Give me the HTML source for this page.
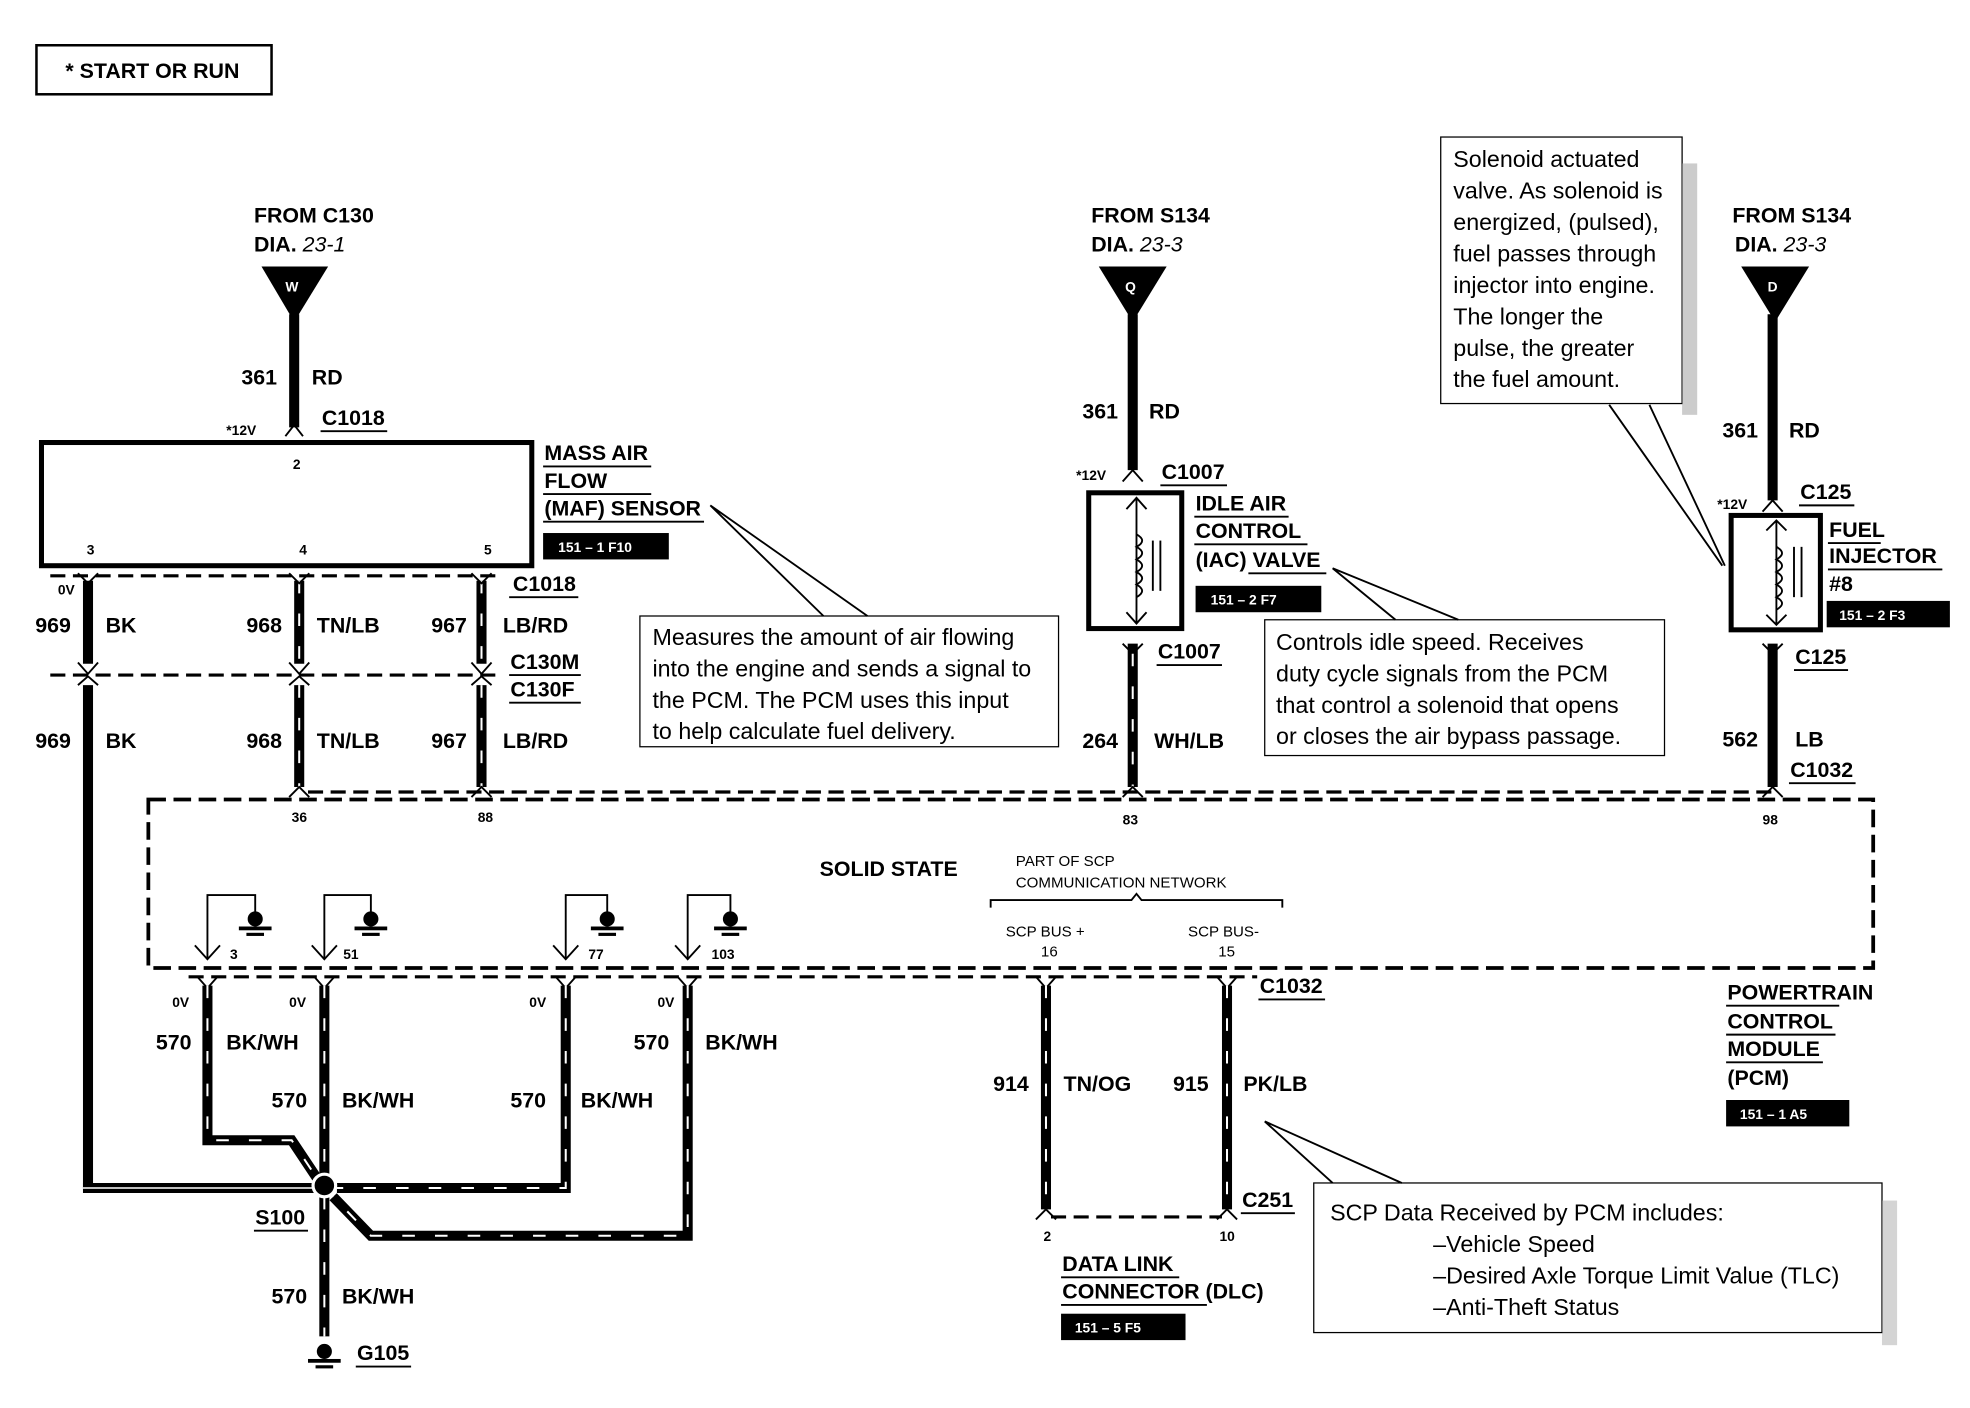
<!DOCTYPE html>
<html><head><meta charset="utf-8"><style>
html,body{margin:0;padding:0;background:#fff;}
svg{display:block}
text{font-family:"Liberation Sans",sans-serif;fill:#000}
.b{font-weight:bold;font-size:17px}
.s{font-weight:bold;font-size:11px}
.m{font-size:12px}
.n{font-size:18.5px}
.w{stroke:#000;stroke-width:8;fill:none}
.st{stroke:#fff;stroke-width:1.6;fill:none;stroke-dasharray:10 16}
.t{stroke:#000;stroke-width:1.5;fill:none}
.d{stroke:#000;stroke-width:2.5;fill:none;stroke-dasharray:12 6}
.box{stroke:#000;stroke-width:4;fill:#fff}
.u{stroke:#000;stroke-width:1.5}
</style></head><body>
<svg width="1970" height="1408" viewBox="0 0 1567 1120" preserveAspectRatio="none">
<rect width="1567" height="1120" fill="#fff"/>
<!-- header -->
<rect x="29" y="36" width="187" height="39" fill="none" stroke="#000" stroke-width="2"/>
<text x="52" y="62" class="b">*  START OR RUN</text>

<!-- ===== MAF ===== -->
<text x="202" y="177" class="b">FROM C130</text>
<text x="202" y="200" class="b">DIA. <tspan font-style="italic" font-weight="normal">23-1</tspan></text>
<polygon points="208,212 261,212 234,256" fill="#000"/>
<text x="227" y="232" class="s" fill="#fff" style="fill:#fff">W</text>
<line x1="234" y1="250" x2="234" y2="340" class="w"/>
<path d="M227,347 L234,338 L241,347" class="t" stroke-width="3"/>
<text x="192" y="306" class="b">361</text><text x="248" y="306" class="b">RD</text>
<text x="180" y="346" class="s">*12V</text>
<text x="256" y="338" class="b">C1018</text><line x1="255" y1="343" x2="308" y2="343" class="u"/>
<rect x="33" y="352" width="390" height="98" class="box"/>
<text x="233" y="373" class="s">2</text>
<text x="69" y="441" class="s">3</text><text x="238" y="441" class="s">4</text><text x="385" y="441" class="s">5</text>
<text x="433" y="366" class="b">MASS AIR</text><line x1="432" y1="371" x2="518" y2="371" class="u"/>
<text x="433" y="388" class="b">FLOW</text><line x1="432" y1="393" x2="518" y2="393" class="u"/>
<text x="433" y="410" class="b">(MAF) SENSOR</text><line x1="432" y1="415" x2="560" y2="415" class="u"/>
<rect x="432" y="424" width="100" height="21" fill="#000"/>
<text x="444" y="439" class="s" style="fill:#fff">151 – 1 F10</text>

<line x1="40" y1="458" x2="400" y2="458" class="d"/>
<line x1="40" y1="537" x2="400" y2="537" class="d"/>
<text x="408" y="470" class="b">C1018</text><line x1="405" y1="475" x2="460" y2="475" class="u"/>
<text x="406" y="532" class="b">C130M</text><line x1="405" y1="537" x2="462" y2="537" class="u"/>
<text x="406" y="554" class="b">C130F</text><line x1="405" y1="559" x2="462" y2="559" class="u"/>
<!-- wires -->
<line x1="70" y1="462" x2="70" y2="528" class="w"/>
<line x1="70" y1="545" x2="70" y2="945" class="w"/>
<line x1="66" y1="945" x2="250" y2="945" class="w"/>
<line x1="66" y1="945" x2="250" y2="945" stroke="#fff" stroke-width="1.2"/>
<line x1="238" y1="462" x2="238" y2="528" class="w"/><line x1="238" y1="462" x2="238" y2="528" class="st"/>
<line x1="238" y1="545" x2="238" y2="626" class="w"/><line x1="238" y1="545" x2="238" y2="626" class="st"/>
<line x1="383" y1="462" x2="383" y2="528" class="w"/><line x1="383" y1="462" x2="383" y2="528" class="st"/>
<line x1="383" y1="545" x2="383" y2="626" class="w"/><line x1="383" y1="545" x2="383" y2="626" class="st"/>
<g class="t" stroke-width="3">
<path d="M62,456 L70,464 L78,456"/><path d="M230,456 L238,464 L246,456"/><path d="M375,456 L383,464 L391,456"/>
<path d="M62,527 L70,536 L78,527"/><path d="M230,527 L238,536 L246,527"/><path d="M375,527 L383,536 L391,527"/>
<path d="M62,545 L70,538 L78,545"/><path d="M230,545 L238,538 L246,545"/><path d="M375,545 L383,538 L391,545"/>
<path d="M230,634 L238,626 L246,634"/><path d="M375,634 L383,626 L391,634"/>
</g>
<line x1="245" y1="630" x2="1410" y2="630" class="d" stroke-width="2"/>
<text x="46" y="473" class="s">0V</text>
<text x="28" y="503" class="b">969</text><text x="84" y="503" class="b">BK</text>
<text x="196" y="503" class="b">968</text><text x="252" y="503" class="b">TN/LB</text>
<text x="343" y="503" class="b">967</text><text x="400" y="503" class="b">LB/RD</text>
<text x="28" y="595" class="b">969</text><text x="84" y="595" class="b">BK</text>
<text x="196" y="595" class="b">968</text><text x="252" y="595" class="b">TN/LB</text>
<text x="343" y="595" class="b">967</text><text x="400" y="595" class="b">LB/RD</text>
<text x="232" y="654" class="s">36</text><text x="380" y="654" class="s">88</text>

<!-- MAF callout -->
<rect x="509" y="490" width="333" height="104" fill="#fff" stroke="#000" stroke-width="1"/>
<path d="M565,402 L655,490 M565,402 L690,490" class="t" stroke-width="1"/>
<text x="519" y="513" class="n">Measures the amount of air flowing</text>
<text x="519" y="538" class="n">into the engine and sends a signal to</text>
<text x="519" y="563" class="n">the PCM.  The PCM uses this input</text>
<text x="519" y="588" class="n">to help calculate fuel delivery.</text>

<!-- ===== IAC ===== -->
<text x="868" y="177" class="b">FROM S134</text>
<text x="868" y="200" class="b">DIA. <tspan font-style="italic" font-weight="normal">23-3</tspan></text>
<polygon points="874,212 928,212 901,256" fill="#000"/>
<text x="895" y="232" class="s" style="fill:#fff">Q</text>
<line x1="901" y1="250" x2="901" y2="374" class="w"/>
<path d="M893,383 L901,374 L909,383" class="t" stroke-width="3"/>
<text x="861" y="333" class="b">361</text><text x="914" y="333" class="b">RD</text>
<text x="856" y="382" class="s">*12V</text>
<text x="924" y="381" class="b">C1007</text><line x1="923" y1="386" x2="976" y2="386" class="u"/>
<rect x="866" y="392" width="74" height="108" class="box"/>
<g class="t" stroke-width="2">
<line x1="904" y1="396" x2="904" y2="496"/><path d="M896,405 L904,396 L912,405"/><path d="M896,487 L904,496 L912,487"/>
<path d="M904,425 q9,5 0,10 q9,5 0,10 q9,5 0,10 q9,5 0,10 q9,5 0,10"/>
<line x1="917" y1="430" x2="917" y2="470"/><line x1="923" y1="430" x2="923" y2="470"/>
</g>
<text x="951" y="406" class="b">IDLE AIR</text><line x1="950" y1="411" x2="1025" y2="411" class="u"/>
<text x="951" y="428" class="b">CONTROL</text><line x1="950" y1="433" x2="1040" y2="433" class="u"/>
<text x="951" y="451" class="b">(IAC) VALVE</text><line x1="993" y1="456" x2="1055" y2="456" class="u"/>
<rect x="951" y="466" width="100" height="21" fill="#000"/>
<text x="963" y="481" class="s" style="fill:#fff">151 – 2 F7</text>
<path d="M893,512 L901,520 L909,512" class="t" stroke-width="3"/>
<line x1="901" y1="512" x2="901" y2="626" class="w"/><line x1="901" y1="520" x2="901" y2="626" class="st"/>
<path d="M893,634 L901,626 L909,634" class="t" stroke-width="3"/>
<text x="921" y="524" class="b">C1007</text><line x1="920" y1="529" x2="972" y2="529" class="u"/>
<text x="861" y="595" class="b">264</text><text x="918" y="595" class="b">WH/LB</text>
<text x="893" y="656" class="s">83</text>
<!-- IAC callout -->
<rect x="1006" y="493" width="318" height="108" fill="#fff" stroke="#000" stroke-width="1"/>
<path d="M1060,452 L1110,493 M1060,452 L1160,493" class="t" stroke-width="1"/>
<text x="1015" y="517" class="n">Controls idle speed.  Receives</text>
<text x="1015" y="542" class="n">duty cycle signals from the PCM</text>
<text x="1015" y="567" class="n">that control a solenoid that opens</text>
<text x="1015" y="592" class="n">or closes the air bypass passage.</text>

<!-- ===== Injector ===== -->
<text x="1378" y="177" class="b">FROM S134</text>
<text x="1380" y="200" class="b">DIA. <tspan font-style="italic" font-weight="normal">23-3</tspan></text>
<polygon points="1385,212 1439,212 1412,256" fill="#000"/>
<text x="1406" y="232" class="s" style="fill:#fff">D</text>
<line x1="1410" y1="250" x2="1410" y2="398" class="w"/>
<path d="M1402,407 L1410,398 L1418,407" class="t" stroke-width="3"/>
<text x="1370" y="348" class="b">361</text><text x="1423" y="348" class="b">RD</text>
<text x="1366" y="405" class="s">*12V</text>
<text x="1432" y="397" class="b">C125</text><line x1="1431" y1="402" x2="1475" y2="402" class="u"/>
<rect x="1377" y="410" width="71" height="91" class="box"/>
<g class="t" stroke-width="2">
<line x1="1413" y1="414" x2="1413" y2="497"/><path d="M1405,422 L1413,414 L1421,422"/><path d="M1405,489 L1413,497 L1421,489"/>
<path d="M1413,435 q9,5 0,10 q9,5 0,10 q9,5 0,10 q9,5 0,10 q9,5 0,10"/>
<line x1="1427" y1="435" x2="1427" y2="475"/><line x1="1433" y1="435" x2="1433" y2="475"/>
</g>
<text x="1455" y="427" class="b">FUEL</text><line x1="1454" y1="432" x2="1496" y2="432" class="u"/>
<text x="1455" y="448" class="b">INJECTOR</text><line x1="1454" y1="453" x2="1545" y2="453" class="u"/>
<text x="1455" y="470" class="b">#8</text>
<rect x="1453" y="478" width="98" height="21" fill="#000"/>
<text x="1463" y="493" class="s" style="fill:#fff">151 – 2 F3</text>
<path d="M1402,512 L1410,520 L1418,512" class="t" stroke-width="3"/>
<line x1="1410" y1="512" x2="1410" y2="626" class="w"/>
<path d="M1402,634 L1410,626 L1418,634" class="t" stroke-width="3"/>
<text x="1428" y="528" class="b">C125</text><line x1="1427" y1="533" x2="1470" y2="533" class="u"/>
<text x="1370" y="594" class="b">562</text><text x="1428" y="594" class="b">LB</text>
<text x="1424" y="618" class="b">C1032</text><line x1="1423" y1="623" x2="1476" y2="623" class="u"/>
<text x="1402" y="656" class="s">98</text>
<!-- injector callout -->
<rect x="1146" y="109" width="192" height="212" fill="#fff" stroke="#000" stroke-width="1"/>
<rect x="1338" y="130" width="12" height="200" fill="#aaa" opacity="0.6"/>
<path d="M1280,322 L1370,450 M1312,322 L1372,450" class="t" stroke-width="1"/>
<text x="1156" y="133" class="n">Solenoid actuated</text>
<text x="1156" y="158" class="n">valve.  As solenoid is</text>
<text x="1156" y="183" class="n">energized, (pulsed),</text>
<text x="1156" y="208" class="n">fuel passes through</text>
<text x="1156" y="233" class="n">injector into engine.</text>
<text x="1156" y="258" class="n">The longer the</text>
<text x="1156" y="283" class="n">pulse, the greater</text>
<text x="1156" y="308" class="n">the fuel amount.</text>

<!-- ===== PCM ===== -->
<rect x="118" y="636" width="1372" height="134" fill="none" stroke="#000" stroke-width="3" stroke-dasharray="14 6"/>
<line x1="150" y1="777" x2="1000" y2="777" class="d" stroke-width="2"/>
<text x="652" y="697" class="b">SOLID STATE</text>
<text x="808" y="689" class="m">PART OF SCP</text>
<text x="808" y="706" class="m">COMMUNICATION NETWORK</text>
<path d="M788,722 L788,716 L900,716 L904,711 L908,716 L1020,716 L1020,722" class="t" stroke-width="3"/>
<text x="800" y="745" class="m">SCP BUS +</text>
<text x="945" y="745" class="m">SCP BUS-</text>
<text x="828" y="761" class="m">16</text><text x="969" y="761" class="m">15</text>
<text x="1374" y="795" class="b">POWERTRAIN</text><line x1="1373" y1="800" x2="1463" y2="800" class="u"/>
<text x="1374" y="818" class="b">CONTROL</text><line x1="1373" y1="823" x2="1460" y2="823" class="u"/>
<text x="1374" y="840" class="b">MODULE</text><line x1="1373" y1="845" x2="1450" y2="845" class="u"/>
<text x="1374" y="863" class="b">(PCM)</text>
<rect x="1373" y="875" width="98" height="21" fill="#000"/>
<text x="1384" y="890" class="s" style="fill:#fff">151 – 1 A5</text>

<!-- internal grounds -->
<g class="t" stroke-width="2">
<path d="M165,763 L165,712 L203,712 L203,726"/><path d="M155,752 L165,763 L175,752"/>
<path d="M258,763 L258,712 L295,712 L295,726"/><path d="M248,752 L258,763 L268,752"/>
<path d="M450,763 L450,712 L483,712 L483,726"/><path d="M440,752 L450,763 L460,752"/>
<path d="M547,763 L547,712 L581,712 L581,726"/><path d="M537,752 L547,763 L557,752"/>
</g>
<g>
<circle cx="203" cy="731" r="6"/><rect x="190" y="737" width="26" height="3"/><rect x="196" y="742" width="14" height="2.5"/>
<circle cx="295" cy="731" r="6"/><rect x="282" y="737" width="26" height="3"/><rect x="288" y="742" width="14" height="2.5"/>
<circle cx="483" cy="731" r="6"/><rect x="470" y="737" width="26" height="3"/><rect x="476" y="742" width="14" height="2.5"/>
<circle cx="581" cy="731" r="6"/><rect x="568" y="737" width="26" height="3"/><rect x="574" y="742" width="14" height="2.5"/>
</g>
<text x="183" y="763" class="s">3</text><text x="273" y="763" class="s">51</text><text x="468" y="763" class="s">77</text><text x="566" y="763" class="s">103</text>

<!-- ground wires -->
<g class="t" stroke-width="3">
<path d="M157,777 L165,786 L173,777"/><path d="M250,777 L258,786 L266,777"/><path d="M442,777 L450,786 L458,777"/><path d="M539,777 L547,786 L555,777"/>
<path d="M824,777 L832,786 L840,777"/><path d="M968,777 L976,786 L984,777"/>
</g>
<polyline points="165,784 165,907 232,907 252,937" class="w"/><polyline points="165,784 165,907 232,907 252,937" class="st"/>
<line x1="258" y1="784" x2="258" y2="934" class="w"/><line x1="258" y1="784" x2="258" y2="934" class="st"/>
<polyline points="450,784 450,945 268,945" class="w"/><polyline points="450,784 450,945 268,945" class="st"/>
<polyline points="547,784 547,983 295,983 265,952" class="w"/><polyline points="547,784 547,983 295,983 265,952" class="st"/>
<line x1="258" y1="952" x2="258" y2="1063" class="w"/><line x1="258" y1="952" x2="258" y2="1063" class="st"/>
<circle cx="258" cy="943" r="9" fill="#000" stroke="#fff" stroke-width="2.5"/>
<text x="137" y="801" class="s">0V</text><text x="230" y="801" class="s">0V</text><text x="421" y="801" class="s">0V</text><text x="523" y="801" class="s">0V</text>
<text x="124" y="835" class="b">570</text><text x="180" y="835" class="b">BK/WH</text>
<text x="216" y="881" class="b">570</text><text x="272" y="881" class="b">BK/WH</text>
<text x="406" y="881" class="b">570</text><text x="462" y="881" class="b">BK/WH</text>
<text x="504" y="835" class="b">570</text><text x="561" y="835" class="b">BK/WH</text>
<text x="203" y="974" class="b">S100</text><line x1="202" y1="979" x2="245" y2="979" class="u"/>
<text x="216" y="1037" class="b">570</text><text x="272" y="1037" class="b">BK/WH</text>
<circle cx="258" cy="1075" r="6"/><rect x="245" y="1081" width="26" height="3"/><rect x="251" y="1086" width="14" height="2.5"/>
<text x="284" y="1082" class="b">G105</text><line x1="283" y1="1087" x2="327" y2="1087" class="u"/>

<!-- SCP wires -->
<line x1="832" y1="784" x2="832" y2="962" class="w"/><line x1="832" y1="784" x2="832" y2="962" class="st" stroke-dasharray="12 10"/>
<line x1="976" y1="784" x2="976" y2="962" class="w"/><line x1="976" y1="784" x2="976" y2="962" class="st" stroke-dasharray="12 10"/>
<path d="M824,970 L832,962 L840,970" class="t" stroke-width="3"/><path d="M968,970 L976,962 L984,970" class="t" stroke-width="3"/>
<line x1="836" y1="968" x2="972" y2="968" class="d" stroke-width="1.8" stroke-dasharray="8 5"/>
<text x="1002" y="790" class="b">C1032</text><line x1="1001" y1="795" x2="1054" y2="795" class="u"/>
<text x="790" y="868" class="b">914</text><text x="846" y="868" class="b">TN/OG</text>
<text x="933" y="868" class="b">915</text><text x="989" y="868" class="b">PK/LB</text>
<text x="988" y="960" class="b">C251</text><line x1="987" y1="965" x2="1030" y2="965" class="u"/>
<text x="830" y="987" class="s">2</text><text x="970" y="987" class="s">10</text>
<text x="845" y="1011" class="b">DATA LINK</text><line x1="844" y1="1016" x2="938" y2="1016" class="u"/>
<text x="845" y="1033" class="b">CONNECTOR (DLC)</text><line x1="844" y1="1038" x2="960" y2="1038" class="u"/>
<rect x="844" y="1045" width="99" height="21" fill="#000"/>
<text x="855" y="1060" class="s" style="fill:#fff">151 – 5 F5</text>
<!-- SCP callout -->
<rect x="1045" y="941" width="452" height="119" fill="#fff" stroke="#000" stroke-width="1"/>
<rect x="1497" y="955" width="12" height="115" fill="#aaa" opacity="0.5"/>
<path d="M1006,892 L1060,941 M1006,892 L1115,941" class="t" stroke-width="1"/>
<text x="1058" y="971" class="n">SCP Data Received by PCM includes:</text>
<text x="1140" y="996" class="n">–Vehicle Speed</text>
<text x="1140" y="1021" class="n">–Desired Axle Torque Limit Value  (TLC)</text>
<text x="1140" y="1046" class="n">–Anti-Theft Status</text>
</svg>
</body></html>
